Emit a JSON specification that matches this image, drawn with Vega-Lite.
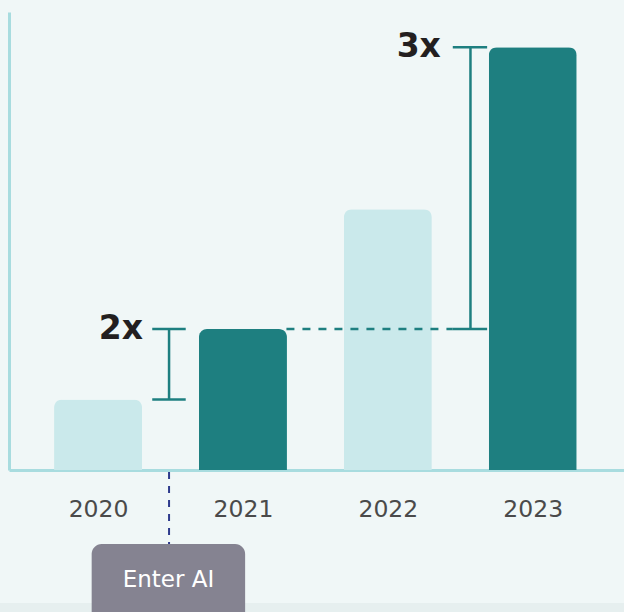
{
  "$schema": "https://vega.github.io/schema/vega-lite/v6.json",
  "width": 615,
  "height": 458,
  "autosize": {"type": "none"},
  "padding": {"left": 9, "top": 12, "right": 0, "bottom": 142},
  "background": "#f0f7f7",
  "config": {
    "view": {"stroke": null},
    "font": "DejaVu Sans",
    "axisX": {"grid": false, "ticks": false, "domainColor": "#a8dcdf", "domainWidth": 3, "labelFont": "DejaVu Sans", "labelFontSize": 23.5, "labelColor": "#4a4a4a", "labelPadding": 27, "labelFlush": false, "labelOverlap": false},
    "axisY": {"grid": false, "ticks": false, "labels": false, "domainColor": "#a8dcdf", "domainWidth": 3}
  },
  "datasets": {
    "bars": [
      {"year": 2020, "value": 1, "highlight": "no"},
      {"year": 2021, "value": 2, "highlight": "yes"},
      {"year": 2022, "value": 3.7, "highlight": "no"},
      {"year": 2023, "value": 6, "highlight": "yes"}
    ],
    "brackets": [
      {"pos": 2020.49, "low": 1, "high": 2, "label": "2x", "labelPos": 2020.31},
      {"pos": 2022.57, "low": 2, "high": 6, "label": "3x", "labelPos": 2022.366}
    ],
    "caps": [
      {"start": 2020.374, "end": 2020.605, "level": 1},
      {"start": 2020.374, "end": 2020.605, "level": 2},
      {"start": 2022.448, "end": 2022.685, "level": 2},
      {"start": 2022.448, "end": 2022.685, "level": 6}
    ],
    "growthLine": [
      {"start": 2021.3, "end": 2022.448, "level": 2}
    ],
    "aiLine": [
      {"pos": 2020.49, "top": -0.03, "bottom": -1.06}
    ],
    "aiBox": [
      {"start": 2019.956, "end": 2021.015, "top": -1.05, "bottom": -2.2, "center": 2020.486, "mid": -1.56, "label": "Enter AI"}
    ],
    "strip": [
      {"start": 2019.3, "end": 2023.7, "top": -1.888, "bottom": -2.3}
    ]
  },
  "layer": [
    {
      "data": {"name": "strip"},
      "mark": {"type": "rect", "color": "#e6efef"},
      "encoding": {
        "x": {"field": "start", "type": "quantitative", "title": null},
        "x2": {"field": "end"},
        "y": {"field": "top", "type": "quantitative", "title": null},
        "y2": {"field": "bottom"}
      }
    },
    {
      "data": {"name": "bars"},
      "mark": {"type": "bar", "width": 88, "cornerRadiusTopLeft": 8, "cornerRadiusTopRight": 8},
      "encoding": {
        "x": {
          "field": "year", "type": "quantitative", "title": null,
          "scale": {"domain": [2019.42, 2023.595], "nice": false, "zero": false},
          "axis": {"values": [2020, 2021, 2022, 2023], "format": "d"}
        },
        "y": {
          "field": "value", "type": "quantitative", "title": null,
          "scale": {"domain": [0, 6.5], "nice": false},
          "axis": {"values": []}
        },
        "color": {
          "field": "highlight", "type": "nominal",
          "scale": {"domain": ["no", "yes"], "range": ["#cae9eb", "#1e7f80"]},
          "legend": null
        }
      }
    },
    {
      "data": {"name": "growthLine"},
      "mark": {"type": "rule", "color": "#1e7f80", "strokeWidth": 2.5, "strokeDash": [8, 8]},
      "encoding": {
        "x": {"field": "start", "type": "quantitative", "title": null},
        "x2": {"field": "end"},
        "y": {"field": "level", "type": "quantitative", "title": null}
      }
    },
    {
      "data": {"name": "brackets"},
      "mark": {"type": "rule", "color": "#1e7f80", "strokeWidth": 2.5},
      "encoding": {
        "x": {"field": "pos", "type": "quantitative", "title": null},
        "y": {"field": "low", "type": "quantitative", "title": null},
        "y2": {"field": "high"}
      }
    },
    {
      "data": {"name": "caps"},
      "mark": {"type": "rule", "color": "#1e7f80", "strokeWidth": 2.5},
      "encoding": {
        "x": {"field": "start", "type": "quantitative", "title": null},
        "x2": {"field": "end"},
        "y": {"field": "level", "type": "quantitative", "title": null}
      }
    },
    {
      "data": {"name": "brackets"},
      "mark": {"type": "text", "align": "right", "baseline": "middle", "fontSize": 33, "fontWeight": "bold", "color": "#231f20", "font": "DejaVu Sans"},
      "encoding": {
        "x": {"field": "labelPos", "type": "quantitative", "title": null},
        "y": {"field": "high", "type": "quantitative", "title": null},
        "text": {"field": "label"}
      }
    },
    {
      "data": {"name": "aiLine"},
      "mark": {"type": "rule", "color": "#2d3a8c", "strokeWidth": 2, "strokeDash": [7, 7]},
      "encoding": {
        "x": {"field": "pos", "type": "quantitative", "title": null},
        "y": {"field": "top", "type": "quantitative", "title": null},
        "y2": {"field": "bottom"}
      }
    },
    {
      "data": {"name": "aiBox"},
      "mark": {"type": "rect", "color": "#858391", "cornerRadius": 10},
      "encoding": {
        "x": {"field": "start", "type": "quantitative", "title": null},
        "x2": {"field": "end"},
        "y": {"field": "top", "type": "quantitative", "title": null},
        "y2": {"field": "bottom"}
      }
    },
    {
      "data": {"name": "aiBox"},
      "mark": {"type": "text", "align": "center", "baseline": "middle", "fontSize": 23, "color": "#ffffff", "font": "DejaVu Sans"},
      "encoding": {
        "x": {"field": "center", "type": "quantitative", "title": null},
        "y": {"field": "mid", "type": "quantitative", "title": null},
        "text": {"field": "label"}
      }
    }
  ]
}
